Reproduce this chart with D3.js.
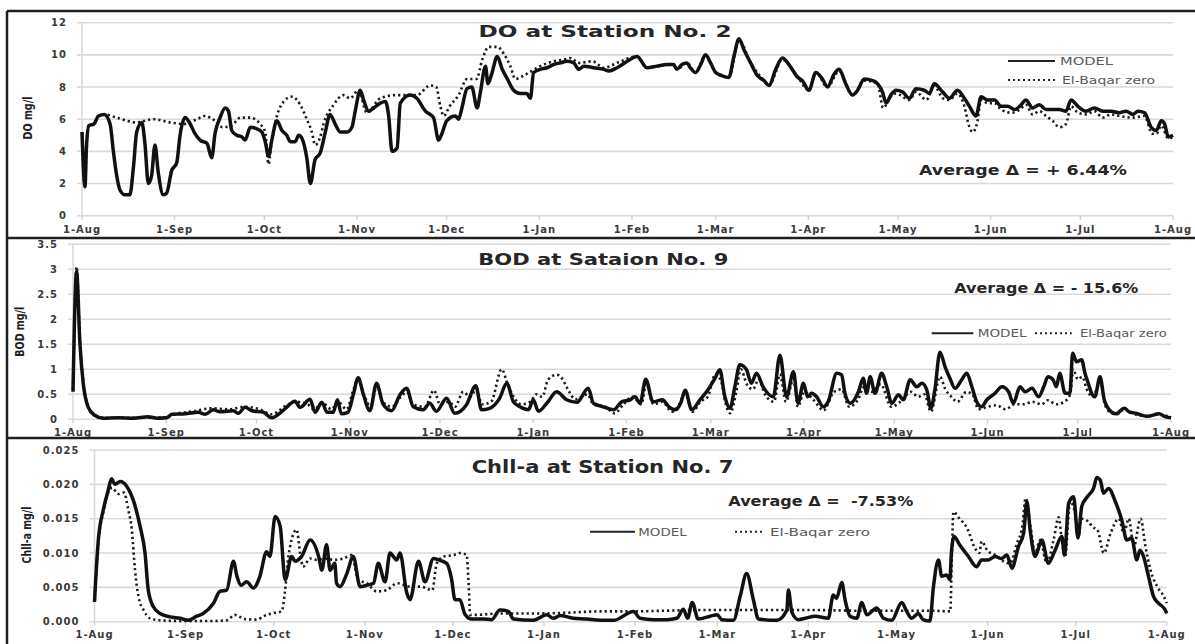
<!DOCTYPE html>
<html>
<head>
<meta charset="utf-8">
<script src="https://cdn.jsdelivr.net/npm/d3@7"></script>
<style>
  body { margin: 0; background: #fff; }
  svg { display: block; }
</style>
</head>
<body>
<div id="viz"></div>
<script>
// series values: [days after 1-Aug, value]
var doModel = [[0,5.2],[1,1.8],[1.5,4.3],[2.3,5.6],[4,5.7],[5.5,6.2],[7.5,6.3],[9.4,5.7],[10.5,4.0],[11.6,2.5],[12.7,1.6],[14.4,1.3],[16,1.3],[17.2,3.0],[18.3,5.2],[20,5.8],[21,4.6],[22.2,2.0],[23.3,2.5],[24.4,4.4],[25.5,2.7],[27.2,1.3],[28.3,1.4],[30,2.8],[31.7,3.3],[32.8,5.0],[34.5,6.1],[36.2,5.7],[37.8,5.1],[39.5,4.7],[41.8,4.5],[43.4,3.6],[44.5,5.1],[46.2,6.1],[47.9,6.7],[49,6.5],[50.1,5.3],[51.8,5.0],[53.5,4.9],[54.6,4.7],[56.3,5.5],[58.5,5.4],[60.2,5.2],[61.3,4.6],[62.4,3.7],[63.5,4.7],[65.2,5.9],[66.9,5.3],[68.5,5.0],[69.7,4.6],[71.3,4.6],[72.5,5.0],[73.6,4.8],[75.2,3.6],[76.4,2.0],[78,3.5],[79.7,3.9],[81.4,5.2],[83,6.3],[84.7,5.7],[86.4,5.2],[88.6,5.2],[90.3,5.5],[91.4,6.5],[93.1,7.8],[94.2,7.2],[95.9,6.5],[97.6,6.7],[99.8,7.0],[101.5,7.1],[102.6,6.2],[103.7,4.0],[105.4,4.2],[106.5,7.0],[109.8,7.5],[112,7.3],[114.9,6.5],[117.6,6.1],[119.3,4.7],[120.4,5.1],[122,5.9],[124.9,6.2],[126,6.0],[127.1,6.7],[128.8,7.9],[130.4,8.0],[132.2,6.7],[133.3,7.7],[135,9.3],[135.8,8.2],[137.2,8.9],[138.9,9.9],[140.6,9.1],[142.3,8.5],[144.4,7.8],[146.6,7.6],[148.8,7.6],[150,7.3],[151.1,8.9],[153.3,9.1],[155.6,9.2],[157.8,9.4],[160,9.5],[162.3,9.6],[164.5,9.5],[166.2,9.1],[167.9,9.3],[171.2,9.2],[174.6,9.1],[176.3,9.0],[179,9.2],[182.4,9.6],[185.7,9.9],[189,9.2],[192.4,9.3],[195.7,9.4],[197.9,9.4],[199,9.1],[200.7,9.4],[202.4,9.5],[203.5,9.2],[205.3,8.9],[207,9.4],[208.6,10.0],[210.3,9.5],[212,8.9],[214.2,8.7],[216.4,8.6],[218.1,9.9],[219.8,11.0],[221.5,10.3],[223.7,9.5],[226,8.7],[228.2,8.4],[229.8,8.1],[232.1,9.1],[234.3,9.8],[236.5,9.4],[239.5,8.6],[241,8.4],[243.2,7.8],[245.5,8.9],[247.7,8.5],[249.4,8.0],[251.6,8.8],[253.3,9.1],[255.5,8.2],[257.8,7.5],[259.5,7.8],[261.7,8.5],[264.5,8.4],[266.2,8.2],[267.8,7.7],[269,7.0],[270.6,7.5],[272.3,7.8],[274.5,7.7],[276.8,7.3],[279,7.9],[281.8,7.8],[283.5,7.6],[285.1,8.2],[287.9,7.7],[290.2,7.3],[292.9,7.8],[295.2,7.3],[296.9,6.8],[299.1,6.2],[300.8,7.4],[303,7.2],[305.3,7.2],[307.5,6.8],[309.7,6.8],[312,6.6],[313.7,6.8],[315.8,7.2],[318,6.7],[320.3,6.9],[322.5,6.6],[327,6.6],[329.2,6.5],[330.9,7.2],[333.2,6.8],[335.9,6.5],[338.7,6.7],[341.5,6.5],[344.3,6.5],[347.1,6.4],[349.3,6.5],[351.6,6.3],[353.3,6.5],[355.5,6.4],[357.7,5.5],[359.4,5.3],[361.1,5.9],[362.2,5.7],[363.4,4.9],[365,5.0]];

var doBaqar = [[0,5.2],[1,1.8],[1.5,4.3],[2.3,5.6],[4,5.7],[5.5,6.2],[7.5,6.3],[11.6,6.1],[18,5.8],[24,6.0],[29.5,5.8],[34,5.7],[38.5,6.0],[41,6.2],[44.5,5.9],[47,5.5],[50,5.6],[53,6.1],[56.3,6.1],[59.6,5.7],[61.3,5.2],[62.4,3.2],[63.5,4.7],[65.2,6.2],[67.5,7.1],[70.2,7.4],[73,6.9],[75.2,6.0],[76.9,5.2],[78,4.4],[79.7,4.9],[80.8,5.7],[84.2,6.9],[87.5,7.5],[89.7,7.3],[92.5,7.8],[95.3,6.4],[99.8,7.3],[105.4,7.5],[109.8,7.5],[112,7.5],[116.5,8.1],[118.5,8.0],[119.9,6.8],[121,6.2],[123,6.8],[126,7.5],[128.8,8.5],[132,8.5],[133.9,9.7],[136.1,10.5],[138.9,10.5],[141,10.1],[143.3,9.3],[145,8.5],[147.7,8.7],[150.5,9.0],[153.3,9.3],[157.8,9.6],[161.1,9.7],[163.4,9.8],[166.2,9.5],[170.7,9.6],[174.6,9.2],[180.2,9.6],[185.7,9.9],[189,9.2],[192.4,9.3],[197.9,9.4],[199,9.1],[202.4,9.5],[205.3,8.9],[208.6,10.0],[212,8.9],[216.4,8.6],[219.8,10.9],[223.7,9.5],[228.2,8.4],[229.8,8.1],[234.3,9.7],[239.5,8.6],[243.2,7.8],[245.5,8.9],[249.4,8.0],[253.3,9.0],[257.8,7.5],[261.7,8.4],[266.2,8.2],[268,6.7],[270.6,7.4],[272.3,7.6],[276.8,7.2],[279,7.7],[282.5,7.2],[285.1,8.1],[288,7.3],[290.2,7.2],[292.9,7.6],[295.2,6.8],[296.9,5.5],[298,5.2],[299.5,5.8],[300.8,7.2],[303,7.0],[305.3,7.0],[307.5,6.6],[311,6.4],[313.7,6.6],[315.8,6.9],[318,6.3],[320.3,6.5],[322.5,6.2],[324.7,5.9],[327,5.5],[329.2,5.7],[330.9,6.8],[333.2,6.4],[335.9,6.3],[338.7,6.5],[341.5,6.1],[344.3,6.3],[347.1,6.2],[351.6,6.1],[355.5,6.2],[358,5.1],[359.4,5.1],[361.1,5.6],[363.4,4.8],[365,4.9]];

var bodModel = [[0,0.55],[1.2,2.95],[2.3,1.52],[3.4,0.72],[5,0.25],[7.2,0.08],[10,0.02],[15,0.03],[20,0.02],[25,0.05],[28,0.02],[31,0.03],[33,0.1],[37.3,0.11],[41.7,0.14],[44,0.1],[46.6,0.19],[49,0.15],[53.3,0.17],[55,0.12],[57.2,0.24],[59.5,0.17],[63.3,0.14],[66,0.03],[68.5,0.11],[71,0.24],[73.8,0.36],[75.5,0.24],[78.8,0.4],[80.5,0.14],[82.7,0.34],[84.5,0.14],[86.5,0.14],[87.9,0.39],[89.2,0.11],[91.4,0.14],[93.2,0.5],[94.8,0.83],[96.5,0.5],[98.7,0.17],[100.9,0.72],[103.1,0.3],[105.9,0.17],[108.7,0.49],[110.9,0.62],[113.1,0.25],[116.4,0.19],[118.6,0.32],[120.8,0.16],[124.2,0.42],[126.9,0.12],[130.8,0.29],[133.9,0.67],[135.8,0.19],[138.5,0.22],[141.8,0.42],[144.2,0.72],[146.4,0.35],[148.6,0.25],[151.4,0.19],[153,0.39],[154.7,0.16],[157.5,0.32],[160.8,0.55],[164.1,0.39],[167.5,0.34],[171.3,0.62],[173,0.32],[176.3,0.25],[179.7,0.19],[182.4,0.35],[185.2,0.39],[186.8,0.45],[188.5,0.32],[190.4,0.8],[192.8,0.35],[195.9,0.39],[198.1,0.25],[200.3,0.19],[202,0.32],[203.5,0.58],[205.7,0.19],[208.4,0.39],[210.6,0.55],[213.4,0.82],[215,0.99],[216.7,0.45],[218.4,0.22],[220,0.65],[221.7,1.09],[223.9,0.99],[225.5,0.72],[227.2,0.92],[229.4,0.65],[232.8,0.45],[235,1.28],[237.2,0.45],[239.5,0.95],[241,0.32],[242.8,0.72],[244.2,0.45],[245.5,0.52],[247.2,0.45],[249.4,0.25],[251,0.35],[253.9,0.92],[255.5,0.89],[256.6,0.52],[258.4,0.32],[261.1,0.55],[262.7,0.82],[263.8,0.52],[265,0.85],[266.6,0.52],[268.8,0.92],[270.5,0.65],[272.2,0.32],[274.4,0.49],[276,0.39],[278.3,0.79],[280.5,0.65],[282.2,0.72],[283.8,0.59],[285.2,0.22],[286.5,0.59],[288.2,1.34],[289.9,1.05],[291.5,0.82],[293.2,0.62],[295.4,0.79],[297.1,0.92],[298.8,0.65],[300.4,0.35],[302,0.25],[303.8,0.39],[306.5,0.52],[308.8,0.65],[311,0.55],[312.6,0.32],[314.8,0.65],[316.5,0.55],[318.8,0.62],[321,0.45],[322.7,0.65],[324.1,0.85],[325.8,0.79],[326.9,0.65],[328,0.92],[329.8,0.52],[331.4,0.52],[332.3,1.32],[333.6,1.15],[335.3,1.19],[336.4,0.92],[337.5,0.72],[338.6,0.52],[339.7,0.45],[341.4,0.85],[342.8,0.39],[344.5,0.19],[346.7,0.11],[349.5,0.22],[351.1,0.15],[353.3,0.12],[357.2,0.06],[361,0.11],[363.2,0.05],[365,0.03]];

var bodBaqar = [[0,0.6],[1.2,3.05],[2.3,1.6],[3.4,0.75],[5,0.27],[7.2,0.09],[10,0.03],[20,0.03],[30,0.04],[35,0.12],[40,0.16],[46,0.22],[52,0.2],[57,0.25],[62,0.2],[66,0.1],[71,0.28],[74,0.35],[78,0.3],[80,0.2],[83,0.32],[86,0.2],[88,0.35],[91,0.2],[93,0.55],[94.8,0.8],[97,0.45],[99,0.25],[101,0.68],[103,0.35],[106,0.25],[109,0.45],[111,0.55],[113,0.3],[117,0.25],[120,0.58],[122,0.3],[125,0.35],[127,0.25],[129.7,0.55],[132,0.45],[134,0.6],[136,0.3],[139,0.35],[142.5,1.0],[144.5,0.7],[146.5,0.45],[149,0.3],[152,0.35],[154,0.5],[156,0.45],[157.9,0.79],[160.8,0.89],[162.5,0.82],[164.5,0.6],[167,0.4],[171,0.5],[173,0.3],[177,0.25],[180,0.12],[183,0.3],[186,0.45],[189,0.3],[190.5,0.7],[193,0.3],[196,0.35],[199,0.15],[201,0.25],[203.5,0.5],[206,0.15],[208.5,0.35],[211,0.45],[213.5,0.9],[215.5,0.75],[217,0.3],[218.5,0.12],[220.5,0.55],[222,1.0],[224,0.7],[226,0.6],[228,0.8],[230,0.5],[233,0.35],[235,0.9],[237,0.35],[239.5,0.8],[241,0.25],[243,0.55],[246,0.4],[249.5,0.18],[253,0.55],[255.5,0.6],[258,0.25],[261,0.4],[263,0.65],[265.5,0.55],[268.5,0.7],[272,0.25],[275,0.35],[278.5,0.55],[281,0.45],[283,0.5],[285.2,0.15],[288.2,0.85],[290,0.6],[292,0.45],[294,0.35],[297,0.55],[299,0.5],[301,0.2],[304,0.25],[307,0.28],[310,0.2],[313,0.3],[316,0.3],[319,0.35],[322,0.3],[324,0.38],[327,0.3],[329.5,0.35],[331.5,0.5],[332.5,1.0],[334,0.8],[335.5,0.85],[337,0.6],[339,0.45],[341.4,0.75],[343,0.3],[344.5,0.15],[347,0.1],[349.5,0.2],[353,0.1],[357,0.06],[361,0.1],[365,0.03]];

var chlModel = [[0,0.0029],[1.3,0.0119],[3,0.0163],[4.7,0.0192],[5.8,0.0208],[7,0.0200],[8.7,0.0204],[11,0.0197],[13.2,0.0177],[15.5,0.0139],[17.2,0.0100],[18.3,0.0046],[20,0.0022],[22.3,0.0012],[25.8,0.0007],[29.1,0.0005],[31.9,0.0002],[34.8,0.0008],[37,0.0012],[40.5,0.0027],[42.7,0.0044],[45,0.0046],[47.3,0.0088],[48.5,0.0066],[49.9,0.0053],[51.8,0.0058],[54.1,0.0049],[56.3,0.0066],[58.6,0.0102],[59.7,0.0095],[61.5,0.0153],[63.2,0.0139],[64.9,0.0061],[67.1,0.0095],[68.3,0.0088],[70.5,0.0095],[73.4,0.0119],[76.3,0.0095],[77.4,0.0075],[79,0.0112],[80.2,0.0075],[81.8,0.0085],[82.4,0.0056],[83.6,0.0051],[85.9,0.0070],[88.1,0.0095],[90.4,0.0051],[92.7,0.0053],[95,0.0056],[96.6,0.0085],[98.9,0.0058],[100.6,0.0100],[102.9,0.0090],[104,0.0100],[106.3,0.0042],[107.4,0.0032],[110.3,0.0088],[112.5,0.0058],[115.4,0.0092],[117.1,0.0090],[119.9,0.0085],[121.6,0.0061],[122.7,0.0032],[124.4,0.0032],[126.1,0.0011],[128.4,0.0004],[132.4,0.0004],[135.2,0.0003],[138,0.0017],[140.9,0.0015],[142.6,0.0004],[149.4,0.0002],[154,0.0010],[156.2,0.0005],[158.5,0.0009],[163,0.0005],[167.6,0.0004],[172.1,0.0002],[176.7,0.0002],[183.5,0.0015],[185.7,0.0005],[190.3,0.0003],[194.8,0.0003],[198.2,0.0005],[200.5,0.0018],[201.9,0.0005],[203.5,0.0028],[205.5,0.0004],[209.6,0.0008],[211.9,0.0010],[213.6,0.0003],[217.5,0.0002],[219.8,0.0037],[222,0.0070],[224.3,0.0032],[226,0.0004],[232.3,0.0002],[235.7,0.0017],[236.2,0.0046],[237.4,0.0014],[239.6,0.0003],[242,0.0005],[245.3,0.0008],[249.8,0.0005],[251.5,0.0039],[252.6,0.0034],[254.4,0.0057],[255.5,0.0032],[257.2,0.0008],[259.5,0.0005],[261.2,0.0028],[262.9,0.0010],[266.3,0.0020],[268.6,0.0005],[271.4,0.0002],[274.8,0.0028],[276.5,0.0015],[278.2,0.0005],[280.4,0.0012],[282.1,0.0003],[284.4,0.0001],[285.6,0.0051],[287.3,0.0090],[288.4,0.0066],[290.1,0.0068],[291.2,0.0061],[291.7,0.0100],[292.6,0.0124],[294.5,0.0112],[297.5,0.0095],[300.3,0.0080],[302,0.0090],[304.3,0.0090],[306.6,0.0095],[308.8,0.0092],[310.6,0.0097],[312.3,0.0078],[314.5,0.0109],[316.3,0.0129],[317.4,0.0175],[318.5,0.0134],[320.2,0.0095],[322.5,0.0119],[324.7,0.0085],[327,0.0104],[329.3,0.0124],[330.2,0.0097],[331.6,0.0172],[333.3,0.0182],[334.8,0.0122],[336.1,0.0168],[338.4,0.0184],[340.1,0.0194],[341.2,0.0210],[342.4,0.0206],[343.5,0.0187],[345.2,0.0194],[347.5,0.0175],[349.7,0.0148],[351.4,0.0119],[353.1,0.0122],[354.8,0.0090],[355.9,0.0104],[357.1,0.0095],[358.8,0.0066],[360.5,0.0037],[362.2,0.0027],[364.5,0.0017],[365,0.0012]];

var chlBaqar = [[0,0.0029],[1.3,0.0115],[3,0.0160],[4.7,0.0188],[6,0.0195],[8.1,0.0186],[10,0.0188],[11.5,0.0163],[12.7,0.0134],[13.8,0.0075],[15,0.0036],[16.7,0.0017],[18.9,0.0005],[22.3,0.0002],[30,0.0001],[40,0.0001],[45,0.0002],[47.8,0.0010],[51,0.0004],[55,0.0003],[58.6,0.0010],[61.5,0.0013],[63.7,0.0015],[64.9,0.0046],[66,0.0095],[68.8,0.0134],[70,0.0100],[71,0.0080],[73.4,0.0092],[75.7,0.0090],[78.5,0.0092],[81.4,0.0090],[84.7,0.0092],[87.5,0.0097],[89.8,0.0061],[92.7,0.0056],[96.1,0.0044],[99.5,0.0046],[103,0.0056],[107.6,0.0051],[111,0.0051],[115,0.0046],[116.5,0.0085],[119,0.0095],[122.2,0.0097],[124.5,0.0100],[126.7,0.0097],[127.3,0.0061],[127.9,0.0010],[130,0.0010],[138,0.0012],[150,0.0012],[160.4,0.0013],[171.7,0.0015],[183,0.0015],[194,0.0016],[205,0.0017],[216,0.0017],[230,0.0017],[245,0.0017],[260,0.0016],[275,0.0016],[285,0.0016],[291.3,0.0015],[291.9,0.0100],[292.4,0.0160],[294.1,0.0152],[297.3,0.0134],[299.5,0.0109],[301.2,0.0100],[302,0.0117],[303.9,0.0104],[306.6,0.0097],[309.4,0.0088],[311.7,0.0085],[314,0.0114],[315.8,0.0138],[317,0.0180],[318.6,0.0140],[320.2,0.0100],[321.9,0.0119],[324.2,0.0085],[326.5,0.0119],[328.2,0.0152],[329.3,0.0119],[330.4,0.0095],[332.1,0.0175],[333.8,0.0158],[334.9,0.0124],[336,0.0150],[338.3,0.0146],[339.7,0.0138],[341.4,0.0134],[343.6,0.0100],[345.9,0.0129],[348.7,0.0150],[350.4,0.0129],[352.1,0.0150],[353.8,0.0109],[356.1,0.0150],[357.8,0.0109],[359.5,0.0075],[361.8,0.0051],[364,0.0037],[365,0.0027]];

// tick values and labels
var doTicks = [0, 2, 4, 6, 8, 10, 12];
var bodTicks = [0, 0.5, 1, 1.5, 2, 2.5, 3, 3.5];
var chlTicks = [0, 0.005, 0.010, 0.015, 0.020, 0.025];
var titles = ["DO at Station No. 2", "BOD at Sataion No. 9", "Chll-a at Station No. 7"];
var yTitles = ["DO mg/l", "BOD mg/l", "Chll-a mg/l"];
var averages = ["Average \u0394 = + 6.44%", "Average \u0394 = - 15.6%", "Average \u0394 =  -7.53%"];
var seriesNames = ["MODEL", "El-Baqar zero"];

(function() {

    var width = 1195;
    var height = 644;
    var font = "'DejaVu Sans', Verdana, sans-serif";

    var svg = d3.select("#viz")
        .append("svg")
        .attr("width", width)
        .attr("height", height);

    svg.append("rect").attr("width", width).attr("height", height).attr("fill", "#fff");

    var start = Date.UTC(2010, 7, 1);
    function toDate(d) { return new Date(start + d * 864e5); }
    var months = d3.utcMonth.range(new Date(start), new Date(Date.UTC(2011, 7, 2)));
    var monthFmt = d3.utcFormat("%b");

    //layout of each of the three panels
    var panels = [
        { model: doModel, baqar: doBaqar, ticks: doTicks, fmt: d3.format("d"), domain: [0, 12],
          left: 82, right: 1173, top: 22.7, bottom: 215.7, xLabelY: 233,
          yTitle: { x: 27.5, y: 118, len: 43 },
          title: { x: 605, y: 37, len: 253, size: 16 },
          avg: { x: 919, y: 175, len: 208 },
          legend: [ { x1: 1008, x2: 1055, y: 61, tx: 1060, ty: 65, len: 53 },
                    { x1: 1008, x2: 1055, y: 80, tx: 1062, ty: 84, len: 93 } ] },
        { model: bodModel, baqar: bodBaqar, ticks: bodTicks, fmt: function(d) { return String(d); }, domain: [0, 3.5],
          left: 73, right: 1171, top: 244.3, bottom: 419.3, xLabelY: 436,
          yTitle: { x: 19.5, y: 331.7, len: 50 },
          title: { x: 603.3, y: 265, len: 250, size: 16 },
          avg: { x: 954.3, y: 292.7, len: 184 },
          legend: [ { x1: 931.7, x2: 973.3, y: 333.3, tx: 977.7, ty: 337, len: 49 },
                    { x1: 1035, x2: 1071.7, y: 333.3, tx: 1080, ty: 337, len: 86.7 } ] },
        { model: chlModel, baqar: chlBaqar, ticks: chlTicks, fmt: d3.format(".3f"), domain: [0, 0.025],
          left: 94.5, right: 1166.7, top: 450, bottom: 621.7, xLabelY: 638,
          yTitle: { x: 26, y: 535, len: 57 },
          title: { x: 602.5, y: 472.5, len: 261.6, size: 17 },
          avg: { x: 728.3, y: 506, len: 185 },
          legend: [ { x1: 590, x2: 635, y: 531.7, tx: 638.3, ty: 535.5, len: 48.4 },
                    { x1: 735, x2: 765, y: 531.7, tx: 770, ty: 535.5, len: 100 } ] }
    ];

    panels.forEach(function(p, i) {
        var g = svg.append("g");

        var x = d3.scaleUtc()
            .domain([toDate(0), toDate(365)])
            .range([p.left, p.right]);
        var y = d3.scaleLinear()
            .domain(p.domain)
            .range([p.bottom, p.top]);

        //gridlines + y tick labels
        g.selectAll(".grid")
            .data(p.ticks)
            .enter().append("line")
            .attr("x1", p.left - 5)
            .attr("x2", p.right)
            .attr("y1", function(d) { return y(d); })
            .attr("y2", function(d) { return y(d); })
            .attr("stroke", "#d9d9d9")
            .attr("stroke-width", 1.6);

        g.selectAll(".ylab")
            .data(p.ticks)
            .enter().append("text")
            .attr("x", p.left - 15)
            .attr("y", function(d) { return y(d); })
            .attr("dy", "0.35em")
            .attr("text-anchor", "end")
            .attr("font-family", font)
            .attr("font-weight", "bold")
            .attr("font-size", "10px")
            .attr("letter-spacing", "1px")
            .attr("fill", "#3a3a3a")
            .text(p.fmt);

        //y axis line
        g.append("line")
            .attr("x1", p.left).attr("x2", p.left)
            .attr("y1", p.top).attr("y2", p.bottom)
            .attr("stroke", "#d9d9d9")
            .attr("stroke-width", 1.6);

        //x ticks (months)
        g.selectAll(".xtick")
            .data(months)
            .enter().append("line")
            .attr("x1", function(d) { return x(d); })
            .attr("x2", function(d) { return x(d); })
            .attr("y1", p.bottom)
            .attr("y2", p.bottom + 4)
            .attr("stroke", "#d0d0d0")
            .attr("stroke-width", 1.4);

        g.selectAll(".xlab")
            .data(months)
            .enter().append("text")
            .attr("x", function(d) { return x(d); })
            .attr("y", p.xLabelY)
            .attr("text-anchor", "middle")
            .attr("font-family", font)
            .attr("font-weight", "bold")
            .attr("font-size", "10px")
            .attr("letter-spacing", "1px")
            .attr("fill", "#3a3a3a")
            .text(function(d) { return "1-" + monthFmt(d); });

        //y axis title
        g.append("text")
            .attr("transform", "translate(" + p.yTitle.x + "," + p.yTitle.y + ") rotate(-90)")
            .attr("text-anchor", "middle")
            .attr("dy", "0.35em")
            .attr("font-family", font)
            .attr("font-weight", "bold")
            .attr("font-size", "13px")
            .attr("fill", "#222")
            .attr("textLength", p.yTitle.len)
            .attr("lengthAdjust", "spacingAndGlyphs")
            .text(yTitles[i]);

        //lines
        var line = d3.line()
            .x(function(d) { return x(toDate(d[0])); })
            .y(function(d) { return y(d[1]); })
            .curve(d3.curveMonotoneX);

        g.append("path")
            .attr("d", line(p.baqar))
            .attr("fill", "none")
            .attr("stroke", "#1a1a1a")
            .attr("stroke-width", 2.6)
            .attr("stroke-dasharray", "2.2,3");

        g.append("path")
            .attr("d", line(p.model))
            .attr("fill", "none")
            .attr("stroke", "#111")
            .attr("stroke-width", 3.5)
            .attr("stroke-linejoin", "round");

        //title
        g.append("text")
            .attr("x", p.title.x - p.title.len / 2)
            .attr("y", p.title.y)
            .attr("font-family", font)
            .attr("font-weight", "bold")
            .attr("font-size", p.title.size + "px")
            .attr("fill", "#262626")
            .attr("textLength", p.title.len)
            .attr("lengthAdjust", "spacingAndGlyphs")
            .text(titles[i]);

        //average delta
        g.append("text")
            .attr("x", p.avg.x)
            .attr("y", p.avg.y)
            .attr("font-family", font)
            .attr("font-weight", "bold")
            .attr("font-size", "14px")
            .attr("fill", "#262626")
            .attr("textLength", p.avg.len)
            .attr("lengthAdjust", "spacingAndGlyphs")
            .attr("xml:space", "preserve")
            .text(averages[i]);

        //legend
        p.legend.forEach(function(l, k) {
            g.append("line")
                .attr("x1", l.x1).attr("x2", l.x2)
                .attr("y1", l.y).attr("y2", l.y)
                .attr("stroke", "#222")
                .attr("stroke-width", 2)
                .attr("stroke-dasharray", k === 1 ? "2,3" : null);
            g.append("text")
                .attr("x", l.tx)
                .attr("y", l.ty)
                .attr("font-family", font)
                .attr("font-size", "10px")
                .attr("fill", "#595959")
                .attr("textLength", l.len)
                .attr("lengthAdjust", "spacingAndGlyphs")
                .text(seriesNames[k]);
        });
    });

    //panel frame
    var frame = [
        [7, 11, 1195, 11],
        [7, 11, 7, 644],
        [7, 238, 1195, 238],
        [7, 438, 1195, 438]
    ];
    svg.selectAll(".frame")
        .data(frame)
        .enter().append("line")
        .attr("x1", function(d) { return d[0]; })
        .attr("y1", function(d) { return d[1]; })
        .attr("x2", function(d) { return d[2]; })
        .attr("y2", function(d) { return d[3]; })
        .attr("stroke", "#1f1f1f")
        .attr("stroke-width", 2.5);

})();
</script>
</body>
</html>
